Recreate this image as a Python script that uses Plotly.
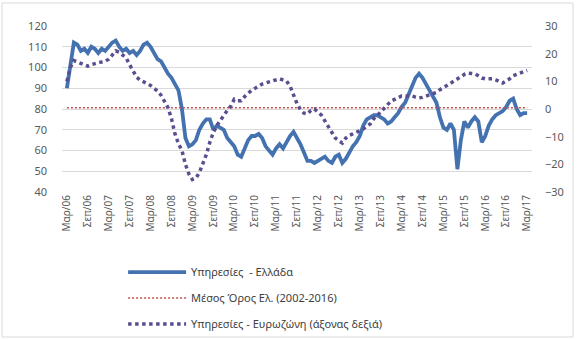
import plotly.graph_objects as go

# Monthly series, Mar 2006 - Mar 2017
month_names = ["Ιαν", "Φεβ", "Μαρ", "Απρ", "Μαϊ", "Ιουν",
               "Ιουλ", "Αυγ", "Σεπ", "Οκτ", "Νοε", "Δεκ"]
start_year, start_month, n_months = 2006, 3, 133

months = []
for k in range(n_months):
    mi = (start_month - 1 + k) % 12
    yr = start_year + (start_month - 1 + k) // 12
    months.append(f"{month_names[mi]}/{yr % 100:02d}")

# Services confidence - Greece (left axis)
greece = [
    90, 100, 112, 111, 108, 109, 107, 110, 109, 107, 109, 108,
    110, 112, 113, 110, 108, 109, 107, 108, 106, 108, 111, 112,
    110, 107, 104, 103, 100, 97, 95, 92, 89, 80, 66, 62,
    63, 65, 70, 73, 75, 75, 70, 72, 71, 70, 66, 64,
    62, 58, 57, 61, 65, 67, 67, 68, 66, 62, 60, 58,
    61, 63, 61, 64, 67, 69, 66, 63, 59, 55, 55, 54,
    55, 56, 57, 55, 54, 57, 58, 54, 56, 59, 62, 64,
    67, 72, 75, 76, 77, 77, 76, 75, 73, 74, 76, 78,
    81, 83, 87, 91, 95, 97, 95, 92, 89, 86, 83, 76,
    71, 70, 73, 70, 51, 65, 74, 71, 74, 76, 74, 64,
    67, 72, 75, 77, 78, 79, 81, 84, 85, 80, 77, 78,
    78,
]

# Long-run average, Greece 2002-2016
greece_avg = 80.6

# Services confidence - Euro area (right axis)
euro_area = [
    10, 15, 17.5, 17, 16.5, 16, 15.5, 16, 16.5, 16.8, 17, 17.3,
    18, 19.5, 21, 20.5, 19.5, 18.5, 16, 14, 11.5, 10.5, 9.8, 9.4,
    8.5, 7.5, 6.5, 5, 3, 0.5, -3.5, -9, -12.5, -15, -20, -23.5,
    -25.5, -25, -23, -20, -16.5, -12, -8.5, -6, -4, -2.5, -0.5, 1,
    3.5, 3, 3, 4.5, 5.8, 6.8, 7.5, 8.3, 9, 9.4, 9.8, 10.1,
    10.5, 10.9, 10.5, 10.1, 8.3, 5, 2, -0.3, -1.5, -1.8, -0.5, 0,
    -1, -2.2, -4.3, -6.5, -8.5, -10.5, -11.5, -12.3, -10.5, -9.5, -9, -8.5,
    -8, -7.2, -6.2, -5.4, -3.5, -2.5, -1, 0.4, 1.5, 2.9, 3.5, 4,
    4.7, 4.7, 4.7, 4.7, 4.3, 4, 4.2, 4.7, 5, 5.5, 6, 7,
    7.6, 8.5, 9.3, 10.1, 11, 12, 12.5, 13, 13, 12.7, 12, 11.2,
    10.9, 10.9, 10.9, 10.5, 10, 9.4, 10.2, 10.9, 12, 12.5, 13, 13.5,
    14,
]

tick_labels = months[::6]

left_ticks = [40, 50, 60, 70, 80, 90, 100, 110, 120]
right_ticks = [-30, -20, -10, 0, 10, 20, 30]

font_family = "Noto Sans, Open Sans, DejaVu Sans, sans-serif"
tick_color = "#595959"
grid_color = "#D9D9D9"

fig = go.Figure()

fig.add_trace(go.Scatter(
    x=months, y=greece, mode="lines",
    name="Υπηρεσίες  - Ελλάδα",
    line=dict(color="#4472B0", width=3.8),
    legendgroup="a",
))
fig.add_trace(go.Scatter(
    x=months, y=[greece_avg] * len(months), mode="lines",
    name="Μέσος Όρος Ελ. (2002-2016)",
    line=dict(color="#C0504D", width=1.5, dash="2px,2px"),
    legendgroup="b",
))
fig.add_trace(go.Scatter(
    x=months, y=euro_area, mode="lines", yaxis="y2",
    name="Υπηρεσίες - Ευρωζώνη (άξονας δεξιά)",
    line=dict(color="#5A4E8E", width=3.5, dash="3.5px,3.5px"),
    legendgroup="c",
))

fig.update_layout(
    width=577, height=340,
    margin=dict(l=62, r=45, t=26, b=148, autoexpand=False),
    paper_bgcolor="white", plot_bgcolor="white",
    font=dict(family=font_family, color=tick_color, size=11),
    showlegend=True,
    legend=dict(
        x=0.13, y=-0.395, xanchor="left", yanchor="top",
        orientation="v", itemwidth=58, tracegroupgap=7,
        font=dict(size=11, color="#404040"),
        bgcolor="rgba(0,0,0,0)",
    ),
    xaxis=dict(
        type="category", range=[-1.4, 133.4],
        tickmode="array", tickvals=tick_labels, ticktext=tick_labels,
        tickangle=-90, tickfont=dict(size=10, color=tick_color),
        showgrid=False, zeroline=False, showline=False, ticks="",
        automargin=False,
    ),
    yaxis=dict(
        range=[40, 120], tickvals=left_ticks,
        showgrid=True, gridcolor=grid_color, gridwidth=1,
        zeroline=False, showline=False, ticks="",
        tickfont=dict(size=11, color=tick_color),
        ticklabelstandoff=14, automargin=False,
    ),
    yaxis2=dict(
        range=[-30, 30], tickvals=right_ticks, overlaying="y", side="right",
        showgrid=False, zeroline=False, showline=False, ticks="",
        tickfont=dict(size=11, color=tick_color),
        ticklabelstandoff=12, automargin=False,
    ),
)

# outer chart frame
fig.add_shape(type="rect", xref="paper", yref="paper",
              x0=-60 / 470, x1=1 + 41 / 470, y0=-145 / 166, y1=1 + 23 / 166,
              line=dict(color="#D9D9D9", width=1), fillcolor="rgba(0,0,0,0)",
              layer="below")

fig.write_html("out.html")
